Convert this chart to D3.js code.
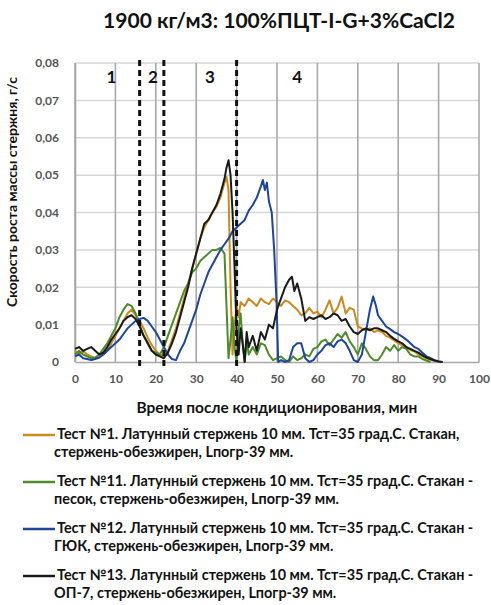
<!DOCTYPE html>
<html>
<head>
<meta charset="utf-8">
<script src="https://cdn.jsdelivr.net/npm/d3@7"></script>
<style>
  body { margin: 0; background: #fff; }
  svg { display: block; font-family: Lato, "Open Sans", sans-serif; font-weight: bold; }
</style>
</head>
<body>
<svg id="chart" width="491" height="605"></svg>
<script>
const title = '1900 кг/м3: 100%ПЦТ-I-G+3%CaCl2';
const yTitle = 'Скорость роста массы стержня, г/с';
const xTitle = 'Время после кондиционирования, мин';

const xTicks = [0, 10, 20, 30, 40, 50, 60, 70, 80, 90, 100];
const yTicks = [0, 0.01, 0.02, 0.03, 0.04, 0.05, 0.06, 0.07, 0.08];
const yTickLabels = ['0', '0,01', '0,02', '0,03', '0,04', '0,05', '0,06', '0,07', '0,08'];

// stage boundaries (dashed) and stage labels
const stageBounds = [16, 22, 40];
const stageNames = ['1', '2', '3', '4'];
const stageLabelX = [9, 19.3, 33.4, 55];

const seriesNames = [
  ['Тест №1. Латунный стержень 10 мм. Тст=35 град.С. Стакан,', 'стержень-обезжирен, Lпогр-39 мм.'],
  ['Тест №11. Латунный стержень 10 мм. Тст=35 град.С. Стакан -', 'песок, стержень-обезжирен, Lпогр-39 мм.'],
  ['Тест №12. Латунный стержень 10 мм. Тст=35 град.С. Стакан -', 'ГЮК, стержень-обезжирен, Lпогр-39 мм.'],
  ['Тест №13. Латунный стержень 10 мм. Тст=35 град.С. Стакан -', 'ОП-7, стержень-обезжирен, Lпогр-39 мм.']
];
const seriesColors = ['#c98a1f', '#4f8a2b', '#1f4596', '#1a1a1a'];

// [time, rate]
const test1 = [[0,0.003],[1,0.002],[2,0.003],[3,0.002],[4,0.0015],[5,0.001],[6,0.0012],[7,0.002],[8,0.003],[9,0.005],
  [10,0.007],[11,0.009],[12,0.011],[13,0.013],[14,0.014],[15,0.0125],[16,0.011],[17,0.009],[18,0.0065],[19,0.0045],
  [20,0.003],[21,0.002],[22,0.0015],[23,0.003],[24,0.006],[25,0.009],[26,0.013],[27,0.017],[28,0.021],[29,0.025],
  [30,0.029],[31,0.033],[32,0.036],[33,0.038],[34,0.04],[35,0.0415],[36,0.044],[36.5,0.046],[37,0.048],[37.5,0.0495],
  [38,0.046],[38.5,0.02],[39,0.002],[39.5,0.01],[40,0.015],[40.5,0.012],[41,0.016],[42,0.015],[43,0.017],[44,0.016],
  [45,0.015],[46,0.017],[47,0.016],[48,0.0155],[49,0.017],[50,0.016],[51,0.015],[52,0.0165],[53,0.016],[54,0.015],
  [55,0.014],[56,0.0125],[57,0.013],[58,0.0145],[59,0.013],[60,0.0135],[61,0.012],[62,0.014],[63,0.0165],[64,0.013],
  [65,0.0145],[66,0.0175],[67,0.013],[68,0.0145],[69,0.014],[70,0.0095],[71,0.009],[72,0.0085],[73,0.009],[74,0.008],
  [75,0.0085],[76,0.008],[77,0.007],[78,0.0065],[79,0.0058],[80,0.005],[81,0.0045],[82,0.004],[83,0.0032],[84,0.0028],
  [85,0.002],[86,0.0015],[87,0.001],[88,0.0006],[89,0.0003],[90,0.0001]];

const test11 = [[0,0.002],[1,0.003],[2,0.002],[3,0.0015],[4,0.001],[5,0.0012],[6,0.002],[7,0.0035],[8,0.005],[9,0.007],
  [10,0.009],[11,0.012],[12,0.014],[13,0.0155],[14,0.015],[15,0.013],[16,0.01],[17,0.007],[18,0.005],[19,0.003],
  [20,0.0025],[21,0.002],[22,0.004],[23,0.007],[24,0.01],[25,0.013],[26,0.016],[27,0.019],[28,0.021],[29,0.024],
  [30,0.025],[31,0.027],[32,0.028],[33,0.029],[34,0.03],[35,0.03],[36,0.0305],[37,0.029],[37.5,0.015],[38,0.001],
  [38.5,0.006],[39,0.012],[39.5,0.004],[40,0],[40.5,0.009],[41,0.013],[41.5,0.005],[42,0],[42.5,0.006],[43,0.002],
  [44,0.004],[45,0.002],[46,0.005],[47,0.0045],[48,0.002],[49,0.0005],[50,0.001],[51,0.0015],[52,0.0005],[53,0],
  [54,0.0015],[55,0.0005],[56,0.001],[57,0.002],[58,0.0015],[59,0.0035],[60,0.004],[61,0.0055],[62,0.006],[63,0.0045],
  [64,0.006],[65,0.0075],[66,0.0065],[67,0.008],[68,0.0055],[69,0.004],[70,0.002],[71,0.005],[72,0.0035],[73,0.0015],
  [74,0.0005],[75,0.0005],[76,0.002],[77,0.004],[78,0.003],[79,0.0045],[80,0.003],[81,0.004],[82,0.0035],[83,0.002],
  [84,0.0015],[85,0.0015],[86,0.0008],[87,0.0004],[88,0]];

const test12 = [[0,0.0015],[1,0.002],[2,0.001],[3,0.0008],[4,0.0005],[5,0.0008],[6,0.0012],[7,0.002],[8,0.003],[9,0.004],
  [10,0.005],[11,0.006],[12,0.0075],[13,0.009],[14,0.01],[15,0.011],[16,0.0115],[17,0.0118],[18,0.011],[19,0.0095],
  [20,0.008],[21,0.006],[22,0.004],[23,0.002],[24,0.0008],[25,0.0005],[26,0.003],[27,0.005],[28,0.008],[29,0.011],
  [30,0.014],[31,0.018],[32,0.021],[33,0.024],[34,0.026],[35,0.028],[36,0.03],[37,0.0315],[38,0.033],[39,0.035],
  [40,0.036],[41,0.037],[42,0.038],[43,0.0405],[44,0.042],[45,0.044],[46,0.047],[46.5,0.0487],[47,0.046],[47.5,0.048],
  [48,0.043],[48.7,0.04],[49.3,0.03],[49.9,0.0157],[50.3,0],[51,0.0005],[52,0],[53,0.0005],[54,0.004],[55,0.005],
  [56,0.005],[57,0.001],[58,0],[59,0.0005],[60,0.002],[61,0.003],[62,0.0045],[63,0.005],[64,0.004],[65,0.0055],
  [66,0.006],[67,0.005],[68,0.003],[69,0.0005],[70,0],[71,0.002],[72,0.008],[73,0.014],[73.8,0.0175],[74.5,0.015],
  [75,0.0125],[76,0.011],[77,0.0095],[78,0.0088],[79,0.008],[80,0.0075],[81,0.0068],[82,0.006],[83,0.005],[84,0.004],
  [85,0.0035],[86,0.0025],[87,0.0015],[88,0.001],[89,0.0005],[90,0.0002],[91,0]];

const test13 = [[0,0.0035],[1,0.004],[2,0.003],[3,0.0035],[4,0.004],[5,0.003],[6,0.002],[7,0.0025],[8,0.004],[9,0.006],
  [10,0.0075],[11,0.009],[12,0.011],[13,0.012],[14,0.0125],[15,0.0115],[16,0.0095],[17,0.007],[18,0.005],[19,0.003],
  [20,0.002],[21,0.0015],[22,0.001],[23,0.0025],[24,0.005],[25,0.008],[26,0.012],[27,0.016],[28,0.02],[29,0.025],
  [30,0.029],[31,0.033],[32,0.037],[33,0.038],[34,0.04],[35,0.042],[36,0.045],[37,0.049],[37.5,0.052],[38,0.054],
  [38.5,0.05],[39,0.04],[39.5,0.025],[40,0.008],[40.5,0.002],[41,0.009],[41.5,0.005],[42,0],[42.5,0.008],[43,0.004],
  [44,0.007],[45,0.003],[46,0.008],[47,0.006],[48,0.01],[49,0.009],[50,0.014],[51,0.017],[52,0.02],[53,0.022],
  [53.7,0.0228],[54.3,0.019],[55,0.021],[56,0.017],[57,0.011],[58,0.012],[59,0.0115],[60,0.012],[61,0.0125],[62,0.0115],
  [63,0.012],[64,0.013],[65,0.0125],[66,0.011],[67,0.0115],[68,0.0095],[69,0.008],[70,0.0075],[71,0.0085],[72,0.009],
  [73,0.0085],[74,0.009],[75,0.009],[76,0.0085],[77,0.008],[78,0.007],[79,0.0062],[80,0.0055],[81,0.005],[82,0.004],
  [83,0.0035],[84,0.003],[85,0.0025],[86,0.0018],[87,0.0012],[88,0.0008],[89,0.0004],[90,0.0001],[91,0]];

const allSeries = [test1, test11, test12, test13];

const svg = d3.select('#chart');
const margin = {top: 63, left: 75, right: 12, bottom: 243};
const width = 491 - margin.left - margin.right;
const height = 605 - margin.top - margin.bottom;

const x = d3.scaleLinear().domain([0, 100]).range([margin.left, margin.left + width]);
const y = d3.scaleLinear().domain([0, 0.08]).range([margin.top + height, margin.top]);

// scale font so that text spans the given width
function fitText(sel, target) {
  const w = sel.node().getComputedTextLength();
  const fs = parseFloat(sel.attr('font-size'));
  sel.attr('font-size', fs * target / w);
  return fs * target / w;
}

// grid
svg.append('g')
  .selectAll('line')
  .data(yTicks.slice(1))
  .join('line')
  .attr('x1', x(0)).attr('x2', x(100))
  .attr('y1', d => y(d)).attr('y2', d => y(d))
  .attr('stroke', '#d6d6d6').attr('stroke-width', 1.5);

svg.append('g')
  .selectAll('line')
  .data(xTicks)
  .join('line')
  .attr('x1', d => x(d)).attr('x2', d => x(d))
  .attr('y1', y(0)).attr('y2', y(0.08))
  .attr('stroke', '#a8a8a8').attr('stroke-width', 1.6);

// axes
const xAxis = d3.axisBottom(x).tickValues(xTicks).tickSize(0).tickPadding(12);
const yAxis = d3.axisLeft(y).tickValues(yTicks).tickSize(0).tickPadding(16)
  .tickFormat((d, i) => yTickLabels[i]);

const gx = svg.append('g').attr('transform', `translate(0,${y(0)})`).call(xAxis);
const gy = svg.append('g').attr('transform', `translate(${x(0)},0)`).call(yAxis);
[gx, gy].forEach(g => {
  g.select('.domain').attr('stroke', '#a8a8a8').attr('stroke-width', 1.6);
  g.selectAll('text').attr('font-size', 12).attr('font-family', 'Lato, sans-serif')
    .attr('font-weight', 'bold').attr('fill', '#555');
});

// curves
const line = d3.line().x(d => x(d[0])).y(d => y(d[1]));
svg.append('g')
  .selectAll('path')
  .data(allSeries)
  .join('path')
  .attr('d', line)
  .attr('fill', 'none')
  .attr('stroke', (d, i) => seriesColors[i])
  .attr('stroke-width', 2)
  .attr('stroke-linejoin', 'round');

// stage boundaries
svg.append('g')
  .selectAll('line')
  .data(stageBounds)
  .join('line')
  .attr('x1', d => x(d)).attr('x2', d => x(d))
  .attr('y1', y(0.08) - 3).attr('y2', y(0) + 6)
  .attr('stroke', '#111').attr('stroke-width', 3)
  .attr('stroke-dasharray', '6,4');

svg.append('g')
  .selectAll('text')
  .data(stageNames)
  .join('text')
  .attr('x', (d, i) => x(stageLabelX[i]))
  .attr('y', 83)
  .attr('text-anchor', 'middle')
  .attr('font-size', 17)
  .attr('fill', '#111')
  .text(d => d);

// titles
const t = svg.append('text')
  .attr('x', 279).attr('y', 28)
  .attr('text-anchor', 'middle')
  .attr('font-size', 16).attr('fill', '#111')
  .text(title);
fitText(t, 352);

const xt = svg.append('text')
  .attr('x', 277).attr('y', 413)
  .attr('text-anchor', 'middle')
  .attr('font-size', 12).attr('fill', '#111')
  .text(xTitle);
fitText(xt, 281);

const yt = svg.append('text')
  .attr('transform', 'translate(17,192) rotate(-90)')
  .attr('text-anchor', 'middle')
  .attr('font-size', 11).attr('fill', '#111')
  .text(yTitle);
fitText(yt, 230);

// legend
const legend = svg.append('g');
const rowY = i => 435 + i * 47;
legend.selectAll('line')
  .data(seriesNames)
  .join('line')
  .attr('x1', 23).attr('x2', 55)
  .attr('y1', (d, i) => rowY(i)).attr('y2', (d, i) => rowY(i))
  .attr('stroke', (d, i) => seriesColors[i]).attr('stroke-width', 2.5);

const items = legend.selectAll('text')
  .data(seriesNames)
  .join('text')
  .attr('font-size', 12)
  .attr('fill', '#111');
items.append('tspan')
  .attr('x', 57).attr('y', (d, i) => rowY(i) + 4)
  .text(d => d[0]);
items.append('tspan')
  .attr('x', 54).attr('y', (d, i) => rowY(i) + 22)
  .text(d => d[1]);

const first = legend.select('text tspan');
const fw = first.node().getComputedTextLength();
items.attr('font-size', 12 * 403 / fw);
</script>
</body>
</html>
